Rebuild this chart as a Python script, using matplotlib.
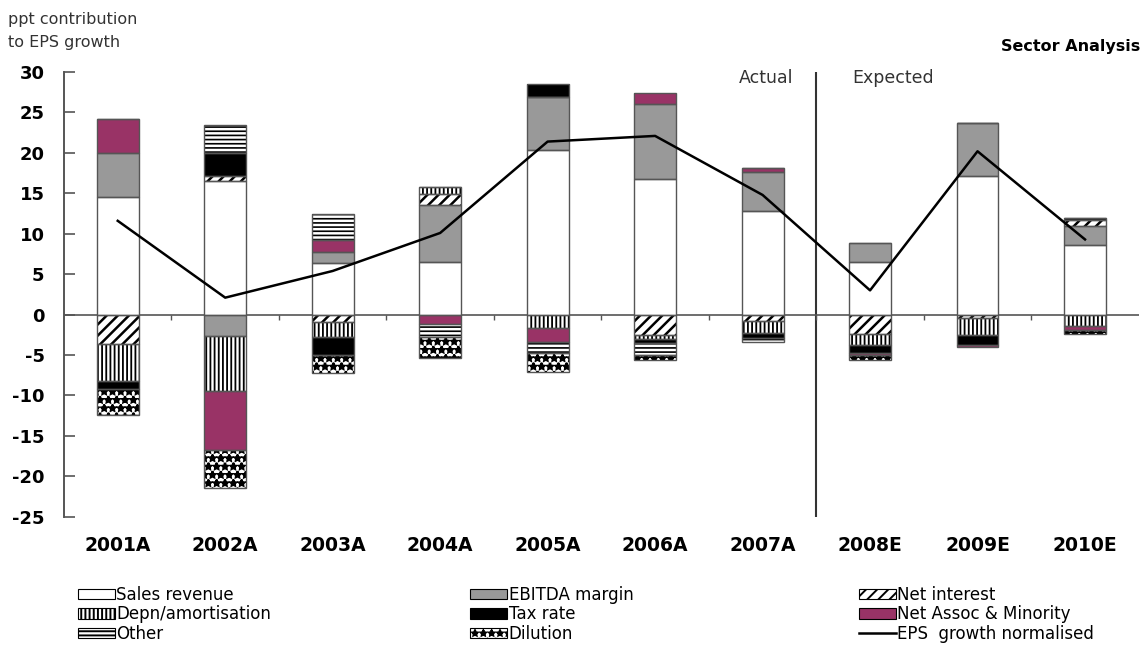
import numpy as np
import matplotlib
matplotlib.use("Agg")
import matplotlib.pyplot as plt
from matplotlib.patches import Patch
from matplotlib.lines import Line2D

plt.rcParams['font.family'] = ['DejaVu Sans']
plt.rcParams['axes.unicode_minus'] = False
plt.rcParams['hatch.linewidth'] = 1.4

# ---- data: ppt contribution to EPS growth ----
years = ['2001A', '2002A', '2003A', '2004A', '2005A', '2006A', '2007A',
         '2008E', '2009E', '2010E']

sales    = [14.6, 16.5, 6.4, 6.5, 20.3, 16.75, 12.8, 6.5, 17.1, 8.55]
ebitda   = [5.4, -2.6, 1.3, 7.0, 6.6, 9.25, 4.8, 2.3, 6.6, 2.35]
net_int  = [-3.6, 0.6, -0.95, 1.4, 0.0, -2.5, -0.8, -2.35, -0.4, 0.75]
depn     = [-4.55, -6.8, -1.8, 0.9, -1.65, -0.5, -1.5, -1.35, -2.1, -1.45]
tax      = [-1.1, 2.9, -2.3, 0.0, 1.6, -0.5, -0.6, -1.0, -1.2, 0.25]
assoc    = [4.2, -7.3, 1.5, -1.1, -1.75, 1.4, 0.5, -0.35, -0.3, -0.4]
other    = [0.0, 3.5, 3.2, -1.65, -1.3, -1.55, -0.5, 0.0, 0.0, 0.0]
dilution = [-3.1, -4.8, -2.15, -2.6, -2.4, -0.55, 0.0, -0.55, 0.0, -0.6]
eps_growth = [11.6, 2.1, 5.4, 10.1, 21.4, 22.1, 14.8, 3.0, 20.2, 9.3]

# name, values, face colour, hatch, hatch line width
series = [
    ('Sales revenue', sales, 'white', None, 1.0),
    ('EBITDA margin', ebitda, '#999999', None, 1.0),
    ('Net interest', net_int, 'white', '///', 1.8),
    ('Depn/amortisation', depn, 'white', '||||', 1.3),
    ('Tax rate', tax, 'black', None, 1.0),
    ('Net Assoc & Minority', assoc, '#993366', None, 1.0),
    ('Other', other, 'white', '----', 1.2),
    ('Dilution', dilution, 'white', '**', 1.6),
]


def set_hlw(artists, lw):
    for a in artists:
        if hasattr(a, 'set_hatch_linewidth'):
            a.set_hatch_linewidth(lw)


edge = '#555555'
fig = plt.figure(figsize=(11.47, 6.46), dpi=100)
ax = fig.add_axes([0.0558, 0.2, 0.937, 0.6885])

x = np.arange(len(years))
width = 0.39
pos_base = np.zeros(len(years))
neg_base = np.zeros(len(years))
for name, vals, fc, hatch, hlw in series:
    v = np.asarray(vals, dtype=float)
    bottom = np.where(v >= 0, pos_base, neg_base)
    # fill + hatch in black, then the grey outline on top
    with plt.rc_context({'hatch.linewidth': hlw}):
        bars = ax.bar(x, v, width, bottom=bottom, color=fc,
                      edgecolor='black', linewidth=0, hatch=hatch, zorder=2)
        set_hlw(bars, hlw)
    ax.bar(x, v, width, bottom=bottom, color='none', edgecolor=edge,
           linewidth=1.0, zorder=3)
    pos_base = pos_base + np.where(v > 0, v, 0)
    neg_base = neg_base + np.where(v < 0, v, 0)

ax.plot(x, eps_growth, color='black', linewidth=1.8, zorder=4)

# actual / expected split
ax.axvline(6.5, color='#333333', linewidth=1.5, zorder=1)
ax.text(6.29, 29.3, 'Actual', ha='right', va='center', fontsize=12.5,
        color='#333333')
ax.text(6.83, 29.3, 'Expected', ha='left', va='center', fontsize=12.5,
        color='#333333')

# zero line with small category ticks
ax.axhline(0, color=edge, linewidth=1.2, zorder=1)
ax.vlines(np.arange(0.5, len(years) - 0.5), -0.7, 0, color=edge,
          linewidth=1.0, zorder=1)

ax.set_xlim(-0.5, len(years) - 0.5)
ax.set_ylim(-25, 30)
ax.set_yticks(np.arange(-25, 31, 5))
ax.set_xticks(x)
ax.set_xticklabels(years, fontsize=13.5, fontweight='bold')
ax.tick_params(axis='x', length=0, pad=14)
ax.tick_params(axis='y', direction='in', length=8, width=1.2, color=edge,
               labelsize=13, pad=14)
for lab in ax.get_yticklabels():
    lab.set_fontweight('bold')
for s in ('top', 'right', 'bottom'):
    ax.spines[s].set_visible(False)
ax.spines['left'].set_color(edge)
ax.spines['left'].set_linewidth(1.4)

fig.text(0.007, 0.952, 'ppt contribution\nto EPS growth', ha='left',
         va='center', fontsize=11.5, color='#333333', linespacing=1.7)
fig.text(0.994, 0.928, 'Sector Analysis', ha='right', va='center',
         fontsize=11.5, fontweight='bold')

# legend: three columns laid out separately
def patch(i):
    name, _, fc, hatch, hlw = series[i]
    with plt.rc_context({'hatch.linewidth': hlw}):
        p = Patch(facecolor=fc, edgecolor='black', hatch=hatch, label=name,
                  linewidth=0.8)
    set_hlw([p], hlw)
    return p

cols = [
    ([patch(0), patch(3), patch(6)], 0.068),
    ([patch(1), patch(4), patch(7)], 0.41),
    ([patch(2), patch(5),
      Line2D([], [], color='black', linewidth=1.8,
             label='EPS  growth normalised')], 0.749),
]
for handles, xpos in cols:
    fig.legend(handles=handles, loc='center left',
               bbox_to_anchor=(xpos, 0.049), frameon=False,
               fontsize=12, handlelength=2.2, handleheight=0.6,
               handletextpad=0.1, labelspacing=0.08, borderpad=0,
               borderaxespad=0)

fig.savefig('out.png', dpi=100)
